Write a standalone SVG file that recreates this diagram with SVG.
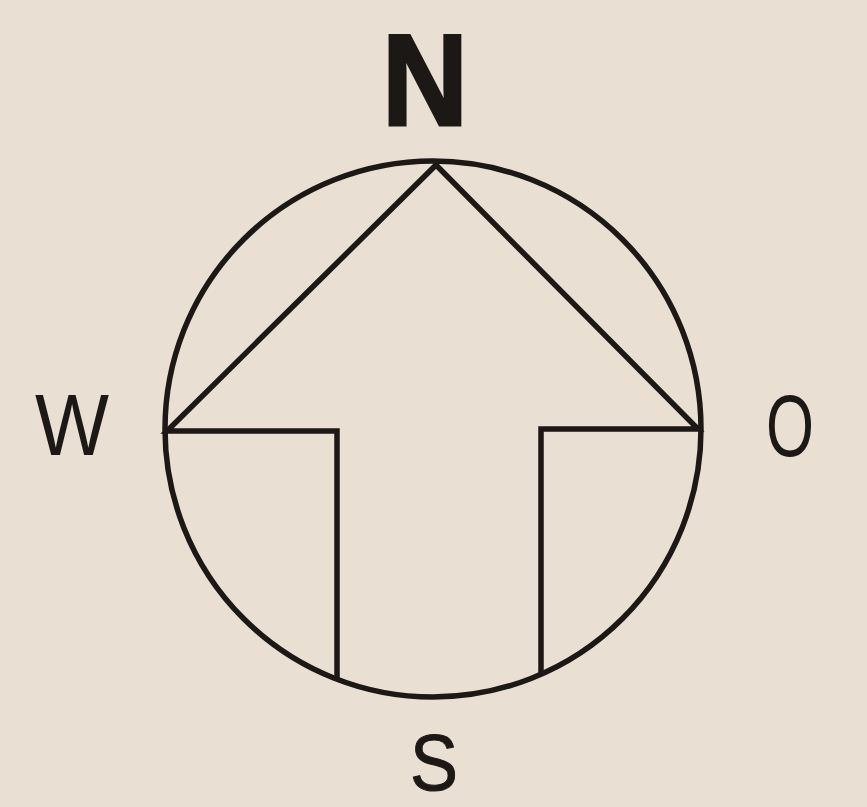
<svg xmlns="http://www.w3.org/2000/svg" width="867" height="807" viewBox="0 0 867 807">
<style>
.ln{fill:none;stroke:#1c1816;stroke-width:5.5;stroke-linejoin:miter;stroke-linecap:butt}
.lbl{font-family:"Liberation Sans",Arial,sans-serif;fill:#1c1816;text-anchor:middle}
</style>
<rect width="867" height="807" fill="#e9dfd3"/>
<g id="rose">
<circle class="ln" cx="433" cy="429" r="268"/>
<polyline class="ln" points="337,680 337,431 167,431 436,165 698,429 541,429 541,675"/>
</g>
<g id="labels">
<text class="lbl" x="425" y="125" font-size="129" font-weight="bold" stroke="#1c1816" stroke-width="3" textLength="86" lengthAdjust="spacingAndGlyphs">N</text>
<text class="lbl" x="72" y="455" font-size="88" textLength="74" lengthAdjust="spacingAndGlyphs">W</text>
<text class="lbl" x="790" y="456" font-size="88" textLength="48" lengthAdjust="spacingAndGlyphs">O</text>
<text class="lbl" x="434" y="790" font-size="80" stroke="#1c1816" stroke-width="1" textLength="48" lengthAdjust="spacingAndGlyphs">S</text>
</g>
</svg>
